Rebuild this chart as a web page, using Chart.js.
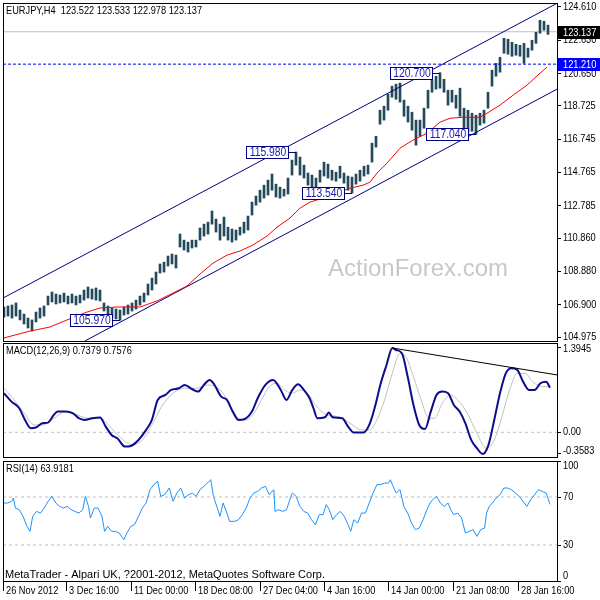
<!DOCTYPE html>
<html>
<head>
<meta charset="utf-8">
<script src="https://cdn.jsdelivr.net/npm/chart.js@4.4.0/dist/chart.umd.min.js"></script>
<style>
    html, body { margin: 0; padding: 0; background: #fff; }
    #wrap { position: relative; width: 600px; height: 600px; overflow: hidden; }
    .pane { position: absolute; left: 0; width: 600px; }
</style>
</head>
<body>
<div id="wrap">
    <div class="pane" style="top:0;height:343px"><canvas id="mainChart" width="600" height="343"></canvas></div>
    <div class="pane" style="top:342px;height:116px"><canvas id="macdChart" width="600" height="116"></canvas></div>
    <div class="pane" style="top:459px;height:141px"><canvas id="rsiChart" width="600" height="141"></canvas></div>
</div>
<script>
// EURJPY H4 bars (one entry per 4px column of the picture)
const barHigh = [106.76, 106.82, 106.88, 107.00, 106.58, 106.34, 106.10, 105.99, 106.46, 106.70,
    106.82, 107.41, 107.65, 107.53, 107.47, 107.59, 107.41, 107.53, 107.41, 107.47,
    107.77, 107.95, 107.83, 107.89, 107.77, 107.00, 106.82, 106.70, 106.64, 106.58,
    106.76, 106.88, 107.00, 107.17, 107.41, 107.59, 108.13, 108.48, 108.84, 109.32,
    109.43, 109.79, 109.91, 109.85, 111.10, 110.74, 110.62, 110.74, 110.74, 111.46,
    111.69, 111.81, 112.47, 111.99, 111.69, 112.11, 111.51, 111.40, 111.34, 111.51,
    111.81, 112.17, 113.00, 113.36, 113.71, 114.01, 114.31, 114.67, 114.07, 113.89,
    113.77, 114.43, 115.50, 115.98, 115.68, 115.20, 114.73, 114.61, 114.43, 114.90,
    115.38, 115.26, 114.90, 114.78, 115.14, 114.73, 114.55, 114.49, 114.67, 114.90,
    115.14, 115.20, 116.51, 116.92, 118.47, 118.71, 119.42, 119.90, 120.02, 120.08,
    119.07, 118.71, 118.35, 117.88, 117.88, 118.59, 119.66, 120.25, 120.49, 120.70,
    120.31, 119.66, 119.66, 119.36, 119.78, 118.59, 118.47, 118.29, 118.17, 118.29,
    118.47, 119.54, 120.85, 121.26, 121.62, 122.75, 122.69, 122.51, 122.39, 122.33,
    122.45, 122.16, 122.63, 123.11, 123.82, 123.76, 123.53];
const barLow = [106.16, 106.22, 106.10, 106.22, 105.99, 105.75, 105.51, 105.33, 105.87, 106.10,
    106.22, 106.88, 107.06, 106.94, 107.00, 107.06, 106.94, 107.00, 106.88, 107.00,
    107.17, 107.29, 107.23, 107.17, 107.12, 106.52, 106.22, 106.10, 106.05, 105.97,
    106.28, 106.34, 106.52, 106.64, 106.88, 107.06, 107.47, 107.77, 108.13, 108.78,
    108.84, 109.20, 109.32, 109.08, 110.33, 110.15, 110.03, 110.27, 110.33, 110.74,
    110.98, 111.10, 111.69, 111.22, 110.74, 110.98, 110.74, 110.62, 110.74, 111.04,
    111.16, 111.34, 112.23, 112.82, 113.00, 113.24, 113.42, 113.71, 113.30, 113.24,
    113.36, 113.48, 114.61, 115.20, 114.61, 114.43, 114.01, 113.60, 113.71, 114.19,
    114.55, 114.43, 114.31, 114.25, 114.43, 114.13, 113.71, 113.54, 114.07, 114.25,
    114.55, 114.67, 115.38, 116.27, 117.64, 117.88, 118.47, 119.24, 119.12, 118.95,
    118.11, 117.76, 117.28, 116.39, 116.92, 117.40, 118.59, 119.54, 119.72, 119.78,
    119.54, 118.77, 118.95, 118.59, 118.11, 117.28, 117.16, 117.22, 117.04, 117.58,
    117.70, 118.59, 119.90, 120.49, 120.73, 121.86, 121.80, 121.68, 121.74, 121.68,
    121.26, 121.62, 122.04, 122.45, 123.05, 123.23, 122.98];

// red moving average
const maIdx = [0, 6.5, 11.5, 15.75, 20.75, 24, 28.25, 34, 38.25, 42.25, 45.75, 49, 52.25, 55.75, 59, 62.25,
    65.75, 68.25, 71.5, 74, 76.5, 79.75, 83.25, 86.5, 89.75, 91.5, 93.25, 95.75, 99, 102.25, 105.75,
    109, 111.5, 114.75, 119, 120.75, 124, 127.25, 130.75, 134, 135.75];
const maVal = [104.92, 105.33, 105.57, 105.99, 106.46, 106.70, 106.76, 106.76, 107.12, 107.59, 108.01,
    108.72, 109.37, 109.85, 110.09, 110.45, 110.98, 111.51, 112.05, 112.64, 113.00, 113.24, 113.54,
    113.83, 114.01, 114.19, 114.73, 115.32, 116.21, 116.69, 117.10, 117.76, 117.99, 118.05, 118.05,
    118.29, 118.77, 119.36, 119.96, 120.67, 121.03];

// channel lines and levels
const upperChannel = [{ x: -0.25, y: 107.29 }, { x: 138.25, y: 124.83 }];
const lowerChannel = [{ x: 20.25, y: 104.74 }, { x: 138.25, y: 119.72 }];
const supportLevel = 121.21;
const lastClose = 123.137;

// swing labels
const noteIdx = [29, 73, 87, 109, 118];
const notePrice = [105.97, 115.98, 113.54, 120.70, 117.04];

const priceTicks = [104.975, 106.900, 108.880, 110.860, 112.785, 114.765, 116.745, 118.725, 120.650, 122.630, 124.610];

// MACD(12,26,9)
const macdIdx = [0, 1.88, 3.81, 5.25, 6.69, 8.13, 9.58, 11.0, 12.46, 13.42, 15.35, 17.27, 18.71, 20.15,
    22.08, 24.0, 25.44, 26.88, 28.33, 30.25, 31.69, 33.62, 35.54, 36.98, 38.42, 40.35, 41.79, 43.71,
    45.15, 47.08, 48.52, 49.96, 51.4, 52.37, 54.29, 55.73, 57.17, 58.62, 60.06, 61.98, 63.42, 65.35,
    67.27, 69.19, 70.63, 72.08, 73.52, 74.96, 76.4, 77.37, 78.33, 80.25, 81.21, 82.17, 84.58, 86.02,
    87.46, 89.87, 91.31, 92.75, 94.19, 95.63, 97.08, 98.04, 99.48, 100.92, 102.37, 103.81, 105.25,
    106.69, 108.13, 109.58, 111.02, 112.46, 113.9, 115.35, 116.79, 118.23, 119.67, 121.12, 122.56,
    124.0, 125.44, 126.88, 128.33, 129.77, 131.21, 132.65, 134.1, 135.54, 136.5];
const macdVal = [0.646, 0.508, 0.398, 0.205, 0.067, 0.084, 0.150, 0.161, 0.288, 0.343, 0.343, 0.315,
    0.233, 0.205, 0.233, 0.244, 0.095, -0.043, -0.098, -0.236, -0.225, -0.126, 0.040, 0.205, 0.536,
    0.618, 0.701, 0.728, 0.783, 0.712, 0.673, 0.783, 0.866, 0.811, 0.591, 0.536, 0.343, 0.205, 0.216,
    0.343, 0.563, 0.783, 0.866, 0.701, 0.536, 0.701, 0.795, 0.701, 0.563, 0.398, 0.233, 0.249, 0.326,
    0.249, 0.233, 0.095, -0.004, -0.004, 0.122, 0.425, 0.811, 1.114, 1.3945, 1.362, 1.307, 0.921,
    0.453, 0.122, 0.056, 0.343, 0.618, 0.673, 0.646, 0.453, 0.343, 0.150, -0.125, -0.263, -0.3583,
    -0.208, 0.205, 0.646, 0.976, 1.059, 1.031, 0.838, 0.701, 0.701, 0.811, 0.838, 0.7379];
const sigIdx = [0, 1.88, 4.77, 7.65, 9.58, 12.46, 15.35, 18.23, 21.12, 24.0, 26.88, 29.77, 32.17, 34.58,
    37.46, 39.38, 42.27, 45.15, 48.04, 50.92, 52.85, 54.77, 56.69, 58.62, 60.54, 62.46, 64.38, 66.31,
    68.23, 70.15, 72.08, 74.0, 75.92, 77.85, 80.73, 83.62, 86.5, 89.38, 91.31, 93.23, 95.15, 97.08,
    99.0, 100.44, 102.37, 104.29, 106.21, 107.65, 109.58, 111.5, 113.42, 115.83, 118.23, 120.63,
    122.56, 124.48, 126.4, 128.33, 130.25, 132.17, 134.58, 136.5];
const sigVal = [0.728, 0.590, 0.343, 0.122, 0.122, 0.233, 0.343, 0.288, 0.233, 0.233, 0.067, -0.126,
    -0.208, -0.126, 0.177, 0.425, 0.646, 0.728, 0.728, 0.783, 0.756, 0.646, 0.425, 0.233, 0.205, 0.315,
    0.536, 0.756, 0.811, 0.701, 0.646, 0.701, 0.646, 0.453, 0.288, 0.260, 0.150, 0.040, 0.040, 0.205,
    0.536, 0.976, 1.307, 1.252, 0.921, 0.536, 0.233, 0.233, 0.481, 0.618, 0.536, 0.315, -0.015, -0.263,
    -0.126, 0.260, 0.701, 0.976, 0.976, 0.838, 0.756, 0.7576];
const macdTrend = [{ x: 97.08, y: 1.3945 }, { x: 138.25, y: 0.949 }];
const macdTicks = [-0.3583, 0, 1.3945];

// RSI(14)
const rsiIdx = [0, 0.92, 1.88, 2.37, 2.85, 3.81, 4.77, 5.73, 6.5, 7.17, 8.13, 9.1, 10.06, 11.02, 11.98,
    12.94, 13.9, 14.87, 15.83, 16.79, 17.75, 18.71, 19.67, 20.35, 21.12, 21.6, 22.56, 23.52, 24.48,
    25.15, 25.92, 26.88, 27.85, 28.81, 29.96, 30.73, 31.69, 32.65, 33.62, 34.58, 35.54, 36.5, 37.46,
    38.42, 39.19, 40.15, 41.31, 42.27, 43.23, 44.19, 45.15, 46.12, 47.08, 48.04, 49.0, 50.44, 51.69,
    52.37, 53.33, 54.0, 54.77, 55.73, 56.4, 57.65, 58.62, 59.58, 60.54, 61.5, 62.46, 63.42, 64.38,
    65.35, 66.31, 67.46, 67.75, 68.71, 69.67, 70.63, 71.31, 72.08, 73.04, 74.0, 74.96, 75.92, 76.88,
    77.85, 78.81, 79.77, 80.54, 81.31, 82.17, 83.13, 84.1, 85.06, 86.02, 86.69, 87.46, 88.42, 89.38,
    90.35, 91.31, 92.27, 93.23, 94.19, 95.15, 96.12, 96.6, 97.27, 98.04, 99.0, 99.96, 100.92, 101.88,
    102.85, 103.81, 104.77, 105.73, 106.5, 107.17, 108.13, 109.1, 110.06, 111.02, 111.69, 112.46,
    113.42, 114.38, 115.35, 116.31, 117.27, 118.23, 119.19, 120.15, 120.63, 121.31, 122.08, 123.04,
    124.0, 124.96, 125.92, 126.88, 127.85, 128.81, 129.77, 130.73, 131.69, 132.65, 133.62, 134.58,
    135.54, 136.5];
const rsiVal = [65.0, 65.0, 66.4, 69.1, 60.8, 59.4, 53.9, 45.5, 41.4, 53.9, 58.0, 56.6, 60.8, 66.4, 70.5,
    65.0, 62.2, 60.8, 62.2, 59.4, 58.0, 56.6, 59.4, 70.5, 62.2, 52.5, 60.8, 60.8, 53.9, 41.4, 45.5, 41.4,
    41.4, 40.0, 34.4, 40.0, 45.5, 46.9, 53.9, 60.8, 65.0, 76.1, 80.3, 83.0, 70.5, 71.9, 77.5, 66.4, 73.3,
    77.5, 69.1, 71.9, 73.3, 70.5, 76.1, 80.3, 84.4, 70.5, 60.8, 53.9, 65.0, 56.6, 49.7, 49.7, 51.1, 55.3,
    60.8, 69.1, 73.3, 74.7, 77.5, 78.9, 71.9, 76.1, 58.0, 59.4, 58.0, 59.4, 66.4, 73.3, 70.5, 62.2, 58.0,
    56.6, 51.1, 46.9, 55.3, 55.3, 63.6, 59.4, 51.1, 55.3, 58.0, 53.9, 46.9, 41.4, 51.1, 48.3, 56.6, 56.6,
    65.0, 73.3, 80.3, 80.3, 81.6, 81.6, 84.4, 78.9, 73.3, 76.1, 62.2, 56.6, 48.3, 42.8, 44.1, 51.1, 59.4,
    65.0, 67.8, 70.5, 65.0, 62.2, 65.0, 59.4, 55.3, 56.6, 52.5, 40.0, 41.4, 42.8, 37.2, 42.8, 44.1, 56.6,
    62.2, 65.0, 69.1, 71.9, 77.5, 77.5, 76.1, 73.3, 70.5, 66.4, 62.2, 67.8, 71.9, 76.1, 74.7, 73.3, 63.9];
const rsiTicks = [0, 30, 70, 100];

// time axis
const dateIdx = [-0.25, 15.5, 31.75, 47.75, 64, 80, 96, 112.25, 128.5];
const dateLabels = ['26 Nov 2012', '3 Dec 16:00', '11 Dec 00:00', '18 Dec 08:00', '27 Dec 04:00',
    '4 Jan 16:00', '14 Jan 00:00', '21 Jan 08:00', '28 Jan 16:00'];

const X_MIN = -0.25, X_MAX = 138.25;
const FONT = '"Liberation Sans", Arial, sans-serif';
const FONT11 = '11px ' + FONT;
const NARROW = 0.84;

Chart.defaults.font.family = FONT;
Chart.defaults.font.size = 11;
Chart.defaults.color = '#000';
Chart.defaults.animation = false;

function pts(xs, ys) {
    return xs.map((x, i) => ({ x: x, y: ys[i] }));
}

function hline(v) {
    return [{ x: X_MIN, y: v }, { x: X_MAX, y: v }];
}

function lineSet(data, color, width, extra) {
    return Object.assign({
        type: 'line', data: data, borderColor: color, borderWidth: width,
        pointRadius: 0, fill: false, tension: 0, clip: 0, order: 1
    }, extra || {});
}

// the terminal font is a narrow one, squeeze the text a little
function narrowText(ctx, text, x, y, k) {
    ctx.save();
    ctx.translate(x, y);
    ctx.scale(k || NARROW, 1);
    ctx.fillText(text, 0, 0);
    ctx.restore();
}

function baseX() {
    return { type: 'linear', min: X_MIN, max: X_MAX, offset: false, display: false, grid: { offset: false } };
}

function rightAxis(min, max, ticks) {
    return {
        type: 'linear', position: 'right', min: min, max: max,
        afterFit: s => { s.width = 43; },
        afterBuildTicks: s => { s.ticks = ticks.map(v => ({ value: v })); },
        grid: { drawOnChartArea: false, tickLength: 4, color: '#000' },
        border: { color: '#000' },
        ticks: { display: false }
    };
}

function axisText(ticks, fmt, nudge) {
    return {
        id: 'axisText',
        afterDraw(chart) {
            const ys = chart.scales.y, ctx = chart.ctx;
            ctx.save();
            ctx.font = FONT11;
            ctx.fillStyle = '#000';
            ctx.textAlign = 'left';
            ctx.textBaseline = 'middle';
            ticks.forEach((v, i) => {
                narrowText(ctx, fmt(v), ys.left + 6, ys.getPixelForValue(v) + (nudge ? nudge[i] : 0));
            });
            ctx.restore();
        }
    };
}

// frame + caption text of each pane
function panelPlugin(title, footer) {
    return {
        id: 'panel',
        afterDraw(chart) {
            const a = chart.chartArea, ctx = chart.ctx;
            ctx.save();
            ctx.strokeStyle = '#000';
            ctx.lineWidth = 1;
            ctx.strokeRect(a.left + 0.5, a.top + 0.5, a.right - a.left, a.bottom - a.top);
            ctx.fillStyle = '#000';
            ctx.font = FONT11;
            ctx.textBaseline = 'middle';
            ctx.textAlign = 'left';
            narrowText(ctx, title, a.left + 3, a.top + 8);
            if (footer) ctx.fillText(footer, a.left + 2, a.bottom - 6);
            ctx.restore();
        }
    };
}

const watermark = {
    id: 'watermark',
    beforeDatasetsDraw(chart) {
        const ctx = chart.ctx;
        ctx.save();
        ctx.fillStyle = '#c8c8c8';
        ctx.font = '24px ' + FONT;
        ctx.textAlign = 'center';
        ctx.textBaseline = 'middle';
        ctx.fillText('ActionForex.com', 418, 269);
        ctx.restore();
    }
};

const swingLabels = {
    id: 'swingLabels',
    afterDatasetsDraw(chart) {
        const xs = chart.scales.x, ys = chart.scales.y, ctx = chart.ctx;
        ctx.save();
        ctx.font = '12px ' + FONT;
        ctx.textAlign = 'center';
        ctx.textBaseline = 'middle';
        noteIdx.forEach((idx, i) => {
            const bx = Math.round(xs.getPixelForValue(idx));
            const by = Math.round(ys.getPixelForValue(notePrice[i]));
            const right = bx - 8, w = 42, h = 12;
            ctx.fillStyle = '#fff';
            ctx.fillRect(right - w, by - 6, w, h);
            ctx.strokeStyle = '#000080';
            ctx.lineWidth = 1;
            ctx.strokeRect(right - w + 0.5, by - 6 + 0.5, w, h);
            ctx.beginPath();
            ctx.moveTo(right, by + 0.5);
            ctx.lineTo(bx, by + 0.5);
            ctx.stroke();
            ctx.fillStyle = '#1c1ca8';
            narrowText(ctx, notePrice[i].toFixed(3), right - w / 2 + 1, by + 1, 0.86);
        });
        ctx.restore();
    }
};

const priceTags = {
    id: 'priceTags',
    afterDraw(chart) {
        const ys = chart.scales.y, ctx = chart.ctx;
        ctx.save();
        ctx.font = FONT11;
        ctx.textAlign = 'left';
        ctx.textBaseline = 'middle';
        [[lastClose, '#000000'], [supportLevel, '#0000ff']].forEach(t => {
            const y = Math.round(ys.getPixelForValue(t[0]));
            ctx.fillStyle = t[1];
            ctx.fillRect(ys.left + 1, y - 6, 43, 13);
            ctx.fillStyle = '#fff';
            narrowText(ctx, t[0].toFixed(3), ys.left + 6, y + 0.5);
        });
        ctx.restore();
    }
};

const dateText = {
    id: 'dateText',
    afterDraw(chart) {
        const xs = chart.scales.x, ctx = chart.ctx;
        ctx.save();
        ctx.font = FONT11;
        ctx.fillStyle = '#000';
        ctx.textAlign = 'left';
        ctx.textBaseline = 'middle';
        dateIdx.forEach((v, i) => {
            narrowText(ctx, dateLabels[i], xs.getPixelForValue(v) + 3, xs.top + 10);
        });
        ctx.restore();
    }
};

const barData = barHigh.map((h, i) => ({ x: i, y: [barLow[i], h] }));

new Chart(document.getElementById('mainChart'), {
    type: 'bar',
    data: {
        datasets: [
            { type: 'bar', data: barData, backgroundColor: '#23495b', barThickness: 2, borderWidth: 0, order: 5 },
            lineSet(pts(maIdx, maVal), '#ff0000', 1),
            lineSet(upperChannel, '#000080', 1),
            lineSet(lowerChannel, '#000080', 1),
            lineSet(hline(supportLevel), '#0000ff', 1, { borderDash: [3, 2] }),
            lineSet(hline(lastClose), '#c0c0c0', 1, { order: 6 })
        ]
    },
    options: {
        responsive: false,
        events: [],
        layout: { padding: { left: 3, top: 3, bottom: 2, right: 0 } },
        plugins: { legend: { display: false }, tooltip: { enabled: false } },
        scales: {
            x: baseX(),
            y: rightAxis(104.737, 124.848, priceTicks)
        }
    },
    plugins: [watermark, swingLabels, panelPlugin('EURJPY,H4  123.522 123.533 122.978 123.137'),
        axisText(priceTicks, v => v.toFixed(3)), priceTags]
});

new Chart(document.getElementById('macdChart'), {
    type: 'line',
    data: {
        datasets: [
            lineSet(hline(0), '#c0c0c0', 1, { borderDash: [3, 3], order: 5 }),
            lineSet(pts(sigIdx, sigVal), '#c0c0c0', 1, { cubicInterpolationMode: 'monotone', order: 4 }),
            lineSet(pts(macdIdx, macdVal), '#0c0c8c', 2, { cubicInterpolationMode: 'monotone', order: 2 }),
            lineSet(macdTrend, '#000000', 1, { order: 1 })
        ]
    },
    options: {
        responsive: false,
        events: [],
        layout: { padding: { left: 3, top: 1, bottom: 1, right: 0 } },
        plugins: { legend: { display: false }, tooltip: { enabled: false } },
        scales: {
            x: baseX(),
            y: rightAxis(-0.408, 1.477, macdTicks)
        }
    },
    plugins: [panelPlugin('MACD(12,26,9) 0.7379 0.7576'),
        axisText(macdTicks, v => (v === 0 ? '0.00' : v.toFixed(4)), [-3, 0, 1])]
});

const rsiX = baseX();
rsiX.display = true;
rsiX.afterBuildTicks = s => { s.ticks = dateIdx.map(v => ({ value: v })); };
rsiX.afterFit = s => { s.height = 19; };
rsiX.grid = { drawOnChartArea: false, tickLength: 10, color: '#000', offset: false };
rsiX.border = { color: '#000' };
rsiX.ticks = { display: false, autoSkip: false };

new Chart(document.getElementById('rsiChart'), {
    type: 'line',
    data: {
        datasets: [
            lineSet(hline(70), '#c0c0c0', 1, { borderDash: [3, 3], order: 5 }),
            lineSet(hline(30), '#c0c0c0', 1, { borderDash: [3, 3], order: 5 }),
            lineSet(pts(rsiIdx, rsiVal), '#1e90ff', 1, { order: 1 })
        ]
    },
    options: {
        responsive: false,
        events: [],
        layout: { padding: { left: 3, top: 2, bottom: 0, right: 0 } },
        plugins: { legend: { display: false }, tooltip: { enabled: false } },
        scales: {
            x: rsiX,
            y: rightAxis(0, 100, rsiTicks)
        }
    },
    plugins: [panelPlugin('RSI(14) 63.9181', 'MetaTrader - Alpari UK, ?2001-2012, MetaQuotes Software Corp.'),
        axisText(rsiTicks, v => String(v), [-5, 0, 0, 5]), dateText]
});
</script>
</body>
</html>
